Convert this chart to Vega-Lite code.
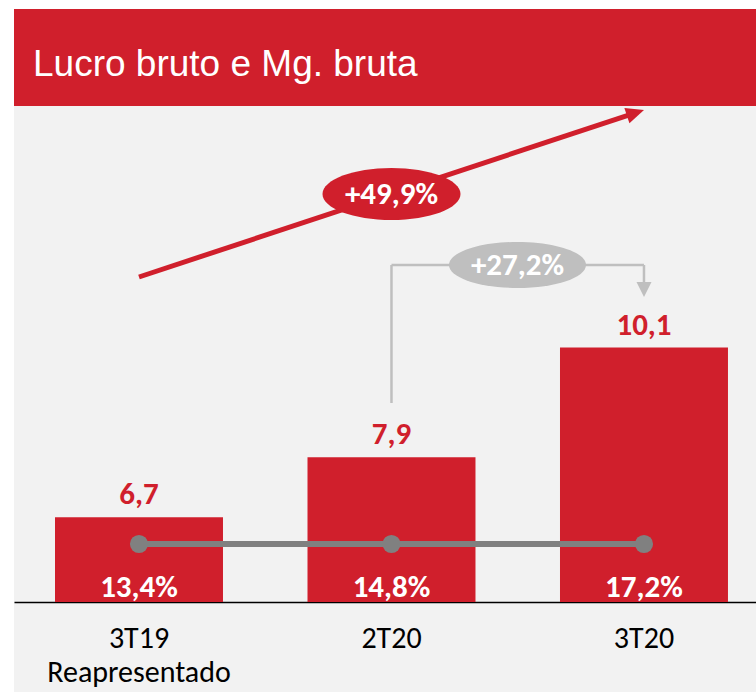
{
  "$schema": "https://vega.github.io/schema/vega-lite/v6.json",
  "padding": {"left": 14, "top": 9, "right": 0, "bottom": 0},
  "background": "white",
  "spacing": 0,
  "config": {
    "view": {"stroke": null},
    "concat": {"spacing": 0},
    "locale": {"number": {"decimal": ",", "thousands": ".", "grouping": [3], "currency": ["R$", ""]}}
  },
  "vconcat": [
    {
      "width": 742,
      "height": 97,
      "view": {"fill": "#D01F2C", "stroke": null},
      "data": {"values": [{"t": "Lucro bruto e Mg. bruta"}]},
      "mark": {"type": "rect", "color": "#D01F2C"},
      "encoding": {},
      "title": {
        "text": "Lucro bruto e Mg. bruta",
        "anchor": "start",
        "orient": "bottom",
        "offset": -30,
        "baseline": "alphabetic",
        "dx": 19,
        "color": "white",
        "font": "Liberation Sans",
        "fontSize": 37,
        "fontWeight": "normal"
      }
    },
    {
      "width": 742,
      "height": 586,
      "view": {"fill": "#F2F2F2", "stroke": null},
      "data": {"values": [
        {"periodo": "3T19", "lucro": 6.7, "margem": 0.134},
        {"periodo": "2T20", "lucro": 7.9, "margem": 0.148},
        {"periodo": "3T20", "lucro": 10.1, "margem": 0.172}
      ]},
      "layer": [
        {
          "mark": {"type": "bar", "color": "#D01F2C"},
          "encoding": {
            "x": {
              "field": "periodo", "type": "nominal", "sort": null,
              "scale": {"paddingInner": 0.3347, "paddingOuter": 0.1367, "align": 0.594},
              "axis": {
                "title": null, "orient": "bottom", "offset": -90,
                "domainColor": "black", "domainWidth": 1.5,
                "ticks": false, "grid": false, "labelAngle": 0,
                "labelFont": "Carlito, Lato", "labelFontSize": 30, "labelColor": "black",
                "labelBaseline": "alphabetic", "labelPadding": 45, "labelLineHeight": 34,
                "labelLimit": 400,
                "labelExpr": "datum.value === '3T19' ? ['3T19', 'Reapresentado'] : datum.value"
              }
            },
            "y": {
              "field": "lucro", "type": "quantitative",
              "scale": {"domain": [3.196, 14.94], "nice": false, "zero": false},
              "axis": null
            },
            "y2": {"datum": 5}
          }
        },
        {
          "mark": {"type": "text", "color": "#D01F2C", "font": "Carlito, Lato", "fontSize": 31, "fontWeight": "bold", "baseline": "alphabetic", "dy": -13},
          "encoding": {
            "x": {"field": "periodo", "type": "nominal", "sort": null},
            "y": {"field": "lucro", "type": "quantitative"},
            "text": {"field": "lucro", "type": "quantitative", "format": ".1f"}
          }
        },
        {
          "mark": {"type": "line", "color": "#808080", "strokeWidth": 6},
          "encoding": {
            "x": {"field": "periodo", "type": "nominal", "sort": null},
            "y": {"datum": 6.162}
          }
        },
        {
          "mark": {"type": "circle", "color": "#808080", "size": 330, "opacity": 1},
          "encoding": {
            "x": {"field": "periodo", "type": "nominal", "sort": null},
            "y": {"datum": 6.162}
          }
        },
        {
          "mark": {"type": "text", "color": "white", "font": "Carlito, Lato", "fontSize": 31, "fontWeight": "bold", "baseline": "alphabetic"},
          "encoding": {
            "x": {"field": "periodo", "type": "nominal", "sort": null},
            "y": {"datum": 5.1},
            "text": {"field": "margem", "type": "quantitative", "format": ".1%"}
          }
        },
        {
          "data": {"values": [{"var": 0.499}]},
          "layer": [
            {
              "mark": {"type": "rule", "color": "#D01F2C", "strokeWidth": 5, "x2Offset": -10, "y2Offset": 3.3},
              "encoding": {
                "x": {"datum": "3T19", "type": "nominal"},
                "x2": {"datum": "3T20"},
                "y": {"datum": 11.513},
                "y2": {"datum": 14.86}
              }
            },
            {
              "mark": {"type": "point", "shape": "M0,0L-2,-0.9L-2,0.9Z", "size": 324, "angle": 341.7, "filled": true, "opacity": 1, "color": "#D01F2C"},
              "encoding": {
                "x": {"datum": "3T20", "type": "nominal"},
                "y": {"datum": 14.86}
              }
            },
            {
              "mark": {"type": "point", "shape": "M-1,0C-1,-0.2082,-0.5523,-0.377,0,-0.377C0.5523,-0.377,1,-0.2082,1,0C1,0.2082,0.5523,0.377,0,0.377C-0.5523,0.377,-1,0.2082,-1,0Z", "size": 19044, "filled": true, "opacity": 1, "color": "#D01F2C"},
              "encoding": {
                "x": {"datum": "2T20", "type": "nominal"},
                "y": {"datum": 13.176}
              }
            },
            {
              "mark": {"type": "text", "color": "white", "font": "Carlito, Lato", "fontSize": 31, "fontWeight": "bold", "baseline": "middle", "dy": 1},
              "encoding": {
                "x": {"datum": "2T20", "type": "nominal"},
                "y": {"datum": 13.176},
                "text": {"field": "var", "type": "quantitative", "format": "+.1%"}
              }
            }
          ]
        },
        {
          "data": {"values": [{"var": 0.272}]},
          "layer": [
            {
              "mark": {"type": "rule", "color": "#BFBFBF", "strokeWidth": 2.5},
              "encoding": {
                "x": {"datum": "2T20", "type": "nominal"},
                "y": {"datum": 8.988},
                "y2": {"datum": 11.754}
              }
            },
            {
              "mark": {"type": "rule", "color": "#BFBFBF", "strokeWidth": 2.5},
              "encoding": {
                "x": {"datum": "2T20", "type": "nominal"},
                "x2": {"datum": "3T20"},
                "y": {"datum": 11.754}
              }
            },
            {
              "mark": {"type": "rule", "color": "#BFBFBF", "strokeWidth": 2.5},
              "encoding": {
                "x": {"datum": "3T20", "type": "nominal"},
                "y": {"datum": 11.754},
                "y2": {"datum": 11.413}
              }
            },
            {
              "mark": {"type": "point", "shape": "M0,0L-1,-2L1,-2Z", "size": 225, "filled": true, "opacity": 1, "color": "#BFBFBF"},
              "encoding": {
                "x": {"datum": "3T20", "type": "nominal"},
                "y": {"datum": 11.112}
              }
            },
            {
              "mark": {"type": "point", "shape": "M-1,0C-1,-0.1856,-0.5523,-0.336,0,-0.336C0.5523,-0.336,1,-0.1856,1,0C1,0.1856,0.5523,0.336,0,0.336C-0.5523,0.336,-1,0.1856,-1,0Z", "size": 18769, "filled": true, "opacity": 1, "color": "#BFBFBF", "xOffset": 126},
              "encoding": {
                "x": {"datum": "2T20", "type": "nominal"},
                "y": {"datum": 11.754}
              }
            },
            {
              "mark": {"type": "text", "color": "white", "font": "Carlito, Lato", "fontSize": 31, "fontWeight": "bold", "baseline": "middle", "dy": 1, "dx": 126},
              "encoding": {
                "x": {"datum": "2T20", "type": "nominal"},
                "y": {"datum": 11.754},
                "text": {"field": "var", "type": "quantitative", "format": "+.1%"}
              }
            }
          ]
        }
      ]
    }
  ]
}
